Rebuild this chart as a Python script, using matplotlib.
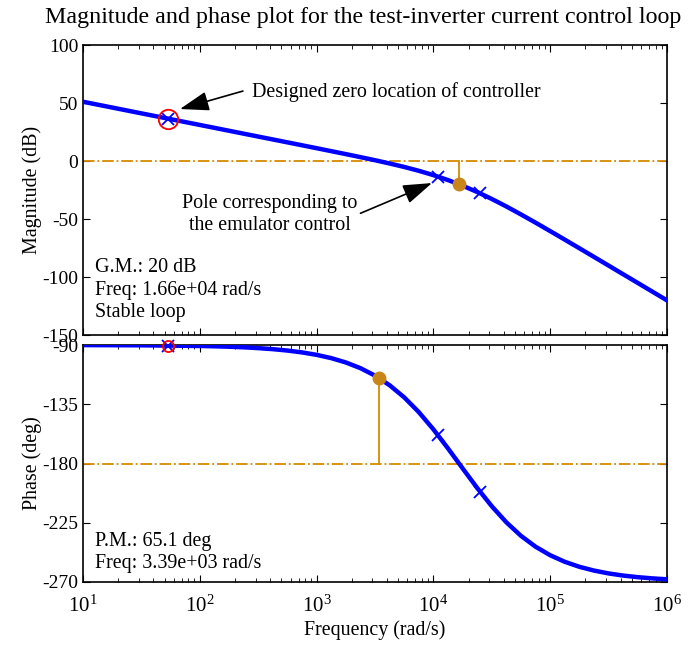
import numpy as np
import matplotlib
matplotlib.use('Agg')
from matplotlib import pyplot as plt
from matplotlib.ticker import LogLocator, NullFormatter

plt.rcParams['font.family'] = ['Liberation Serif', 'DejaVu Serif']
plt.rcParams['mathtext.fontset'] = 'stix'
plt.rcParams['axes.unicode_minus'] = False

# loop response
freq = [10, 31.6, 100, 133.4, 177.8, 237.1, 316.2, 421.7, 562.3, 749.9,
        1000, 1333.5, 1778, 2371, 3162, 4217, 5623, 7499, 10000, 13335,
        17783, 23714, 31623, 42170, 56234, 74989, 100000, 133352, 177828,
        237137, 316228, 421697, 562341, 749894, 1000000]
mag_db = [51.08, 41.08, 31.08, 28.58, 26.08, 23.58, 21.07, 18.57, 16.07, 13.56,
          11.04, 8.50, 5.95, 3.34, 0.67, -2.14, -5.14, -8.45, -12.18, -16.43,
          -21.28, -26.73, -32.74, -39.23, -46.08, -53.18, -60.45, -67.81,
          -75.24, -82.69, -90.17, -97.65, -105.14, -112.64, -120.14]
phase_deg = [-90.08, -90.24, -90.75, -90.99, -91.32, -91.75, -92.37, -93.16,
             -94.22, -95.62, -97.48, -99.97, -103.25, -107.58, -113.25, -120.56,
             -129.75, -140.98, -154.07, -168.56, -183.68, -198.60, -212.49,
             -224.71, -234.96, -243.21, -249.68, -254.66, -258.46, -261.32,
             -263.49, -265.12, -266.33, -267.25, -267.94]

# pole / zero markers
zero_w = [53]
zero_mag = [36.6]
zero_ph = [-90.4]
pole_w = [53, 11000, 25000]
pole_mag = [36.6, -13.53, -27.79]
pole_ph = [-90.4, -158.7, -201.3]

# margins
gm_w, gm_mag = 16600, -20.0
pm_w, pm_ph = 3390, -114.9

blue = '#0000ff'
orange = '#d48a00'
dark_orange = '#c8861a'

fig = plt.figure(figsize=(6.91, 6.47), dpi=100)
ax1 = fig.add_axes([83/691, 1-335/647, 584/691, 290/647])
ax2 = fig.add_axes([83/691, 1-582/647, 584/691, 237/647])

fs = 14.4

for ax in (ax1, ax2):
    ax.set_xscale('log')
    ax.set_xlim(10, 1e6)
    ax.tick_params(which='both', direction='in', top=True, right=True,
                   labelsize=14)
    ax.tick_params(which='major', length=5)
    ax.tick_params(which='minor', length=3)
    ax.xaxis.set_minor_locator(LogLocator(base=10, subs=np.arange(2, 10)))
    ax.xaxis.set_minor_formatter(NullFormatter())
    for sp in ax.spines.values():
        sp.set_linewidth(1.2)

arrow = dict(arrowstyle='-|>,head_length=0.9,head_width=0.3', color='black',
             lw=1.2, mutation_scale=20, shrinkA=0, shrinkB=0)

# magnitude
ax1.axhline(0, color=orange, lw=1.3, ls='-.')
ax1.plot([gm_w, gm_w], [0, gm_mag], color=orange, lw=1.3)
ax1.plot(freq, mag_db, color=blue, lw=3.2, zorder=3)
ax1.plot(gm_w, gm_mag, 'o', color=dark_orange, ms=9, zorder=4)
ax1.plot(pole_w, pole_mag, 'x', color=blue, ms=8, mew=1.3, zorder=5)
ax1.plot(zero_w, zero_mag, 'o', mfc='none', mec='red', ms=14, mew=1.3, zorder=5)
ax1.set_ylim(-150, 100)
ax1.set_yticks([-150, -100, -50, 0, 50, 100])
ax1.xaxis.set_major_formatter(NullFormatter())
ax1.set_ylabel('Magnitude (dB)', fontsize=fs, labelpad=0)

fig.text(363/691, 1-17/647,
         'Magnitude and phase plot for the test-inverter current control loop',
         fontsize=17.3, ha='center', va='center')

# zero annotation: arrow and label drawn separately
ax1.annotate('', xy=(67.6, 44.8), xytext=(234, 60.3), arrowprops=arrow)
ax1.text(280, 59.5, 'Designed zero location of controller', fontsize=fs,
         va='center', ha='left')
ax1.annotate('Pole corresponding to\nthe emulator control', xy=(9730, -19.0),
             xytext=(399, -46.1), fontsize=fs, va='center', ha='center',
             linespacing=1.25,
             arrowprops=dict(arrow, relpos=(1.0, 0.5)))

ax1.text(0.02, 0.155, 'G.M.: 20 dB\nFreq: 1.66e+04 rad/s\nStable loop',
         transform=ax1.transAxes, fontsize=fs, va='center', ha='left',
         linespacing=1.25)

# phase
ax2.axhline(-180, color=orange, lw=1.3, ls='-.')
ax2.plot([pm_w, pm_w], [-180, pm_ph], color=orange, lw=1.3)
ax2.plot(freq, phase_deg, color=blue, lw=3.2, zorder=3)
ax2.plot(pm_w, pm_ph, 'o', color=dark_orange, ms=9, zorder=4)
ax2.plot(pole_w, pole_ph, 'x', color=blue, ms=8, mew=1.3, zorder=5,
         clip_on=False)
ax2.plot(zero_w, zero_ph, 'o', mfc='none', mec='red', ms=8, mew=1.3, zorder=5,
         clip_on=False)
ax2.set_ylim(-270, -90)
ax2.set_yticks([-270, -225, -180, -135, -90])
ax2.set_ylabel('Phase (deg)', fontsize=fs, labelpad=0)
ax2.set_xlabel('Frequency (rad/s)', fontsize=fs, labelpad=2)
ax2.tick_params(axis='x', labelsize=15, pad=10)

ax2.text(0.02, 0.1245, 'P.M.: 65.1 deg\nFreq: 3.39e+03 rad/s',
         transform=ax2.transAxes, fontsize=fs, va='center', ha='left',
         linespacing=1.25)

fig.savefig('out.png', dpi=100)
